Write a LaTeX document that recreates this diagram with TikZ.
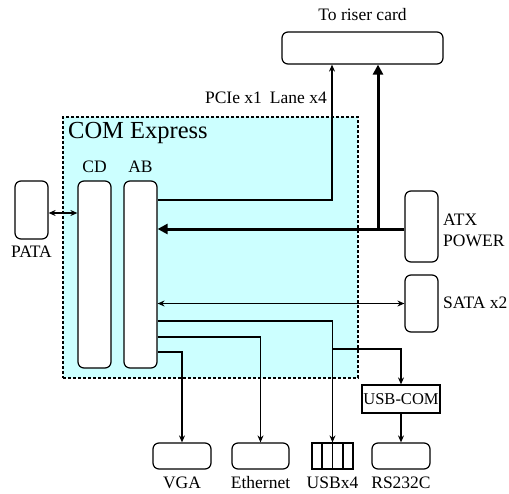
\documentclass[tikz,border=0pt]{standalone}
\usepackage{fontspec}
\setmainfont{Liberation Serif}
\usetikzlibrary{arrows.meta}
\definecolor{comfill}{RGB}{204,255,255}
\begin{document}
\begin{tikzpicture}[x=1pt,y=-1pt,
  rbox/.style={draw,line width=1.2pt,rounded corners=6pt,fill=white,inner sep=0pt},
  sbox/.style={draw,line width=1.2pt,fill=white,inner sep=0pt},
  lab/.style={font=\fontsize{17.5}{21}\selectfont,inner sep=0pt},
  conn/.style={line width=1.2pt,-{Stealth[length=7pt,width=6pt]}},
  dconn/.style={line width=1.2pt,{Stealth[length=7pt,width=6pt]}-{Stealth[length=7pt,width=6pt]}},
  thickconn/.style={line width=3pt,-{Triangle[length=10pt,width=10pt]}}]
\useasboundingbox (0,0) rectangle (509,493);
% COM Express area
\node[draw,dash pattern=on 3pt off 2pt,line width=1.2pt,fill=comfill,minimum width=295pt,minimum height=261pt,inner sep=0pt] (com) at (210.5,247.5) {};
\node[anchor=base west,font=\fontsize{24.5}{28}\selectfont,inner sep=0pt] (comlab) at (68,138) {COM Express};
% boxes
\node[rbox,minimum width=33pt,minimum height=187pt] (cd) at (94.5,274.5) {};
\node[rbox,minimum width=33pt,minimum height=187pt] (ab) at (140.5,274.5) {};
\node[lab] (cdlab) at (94.5,167) {CD};
\node[lab] (ablab) at (140.5,167) {AB};
\node[rbox,minimum width=33pt,minimum height=58pt] (pata) at (31.5,210) {};
\node[lab] (patalab) at (31.5,252) {PATA};
\node[rbox,minimum width=161pt,minimum height=32pt] (riser) at (362.5,48) {};
\node[lab] (riserlab) at (362.5,15) {To riser card};
\node[lab,anchor=base east] (pcielab) at (327,103) {PCIe x1\hspace{8pt}Lane x4};
\node[rbox,minimum width=33pt,minimum height=71pt] (atx) at (421.5,226.5) {};
\node[lab,anchor=west,align=left] (atxlab) at (443,230) {ATX\\POWER};
\node[rbox,minimum width=33pt,minimum height=57pt] (sata) at (421.5,303.5) {};
\node[lab,anchor=west] (satalab) at (443,303) {SATA x2};
\node[sbox,minimum width=78pt,minimum height=28pt,font=\fontsize{16.5}{19}\selectfont] (usbcom) at (401,399) {USB-COM};
\node[rbox,minimum width=58pt,minimum height=26pt] (vga) at (182,456) {};
\node[rbox,minimum width=57pt,minimum height=26pt] (eth) at (260.5,456) {};
\node[sbox,minimum width=41pt,minimum height=26pt] (usb) at (332.5,456) {};
\node[rbox,minimum width=58pt,minimum height=26pt] (rs) at (401,456) {};
\draw[line width=1.2pt] (usb.north -| 322,0) -- (usb.south -| 322,0)
  (usb.north -| 332.5,0) -- (usb.south -| 332.5,0)
  (usb.north -| 343,0) -- (usb.south -| 343,0);
\node[lab] (vgalab) at (182,483) {VGA};
\node[lab] (ethlab) at (260.5,483) {Ethernet};
\node[lab] (usblab) at (332.5,483) {USBx4};
\node[lab] (rslab) at (401,483) {RS232C};
% connectors
\draw[conn] (ab.east |- 0,200) -| (riser.south -| 332,0);
\coordinate (j1) at (378,229);
\draw[thickconn] (atx.west |- j1) -- (ab.east |- j1);
\draw[thickconn] (j1) -- (riser.south -| j1);
\draw[dconn] (ab.east |- sata.west) -- (sata.west);
\draw[dconn] (pata.east |- 0,213) -- (cd.west |- 0,213);
\draw[conn] (ab.east |- 0,321) -| (usb.north);
\draw[conn] (ab.east |- 0,337) -| (eth.north);
\draw[conn] (ab.east |- 0,352) -| (vga.north);
\coordinate (j2) at (332.5,349);
\draw[conn] (j2) -| (usbcom.north);
\draw[conn] (usbcom.south) -- (rs.north);
\end{tikzpicture}
\end{document}
